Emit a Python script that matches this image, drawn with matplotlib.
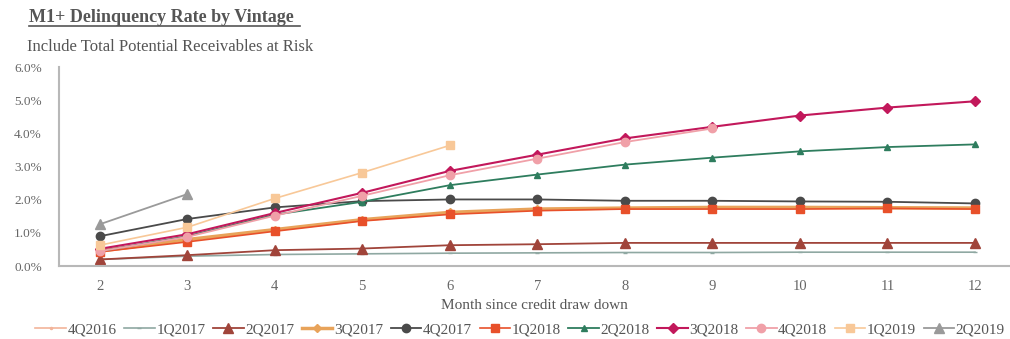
import matplotlib
matplotlib.use('Agg')
from matplotlib import pyplot as plt
from matplotlib.lines import Line2D

plt.rcParams['font.family'] = ['Liberation Serif', 'DejaVu Serif']

# data (percent)
months = [2, 3, 4, 5, 6, 7, 8, 9, 10, 11, 12]
vintages = ['4Q2016', '1Q2017', '2Q2017', '3Q2017', '4Q2017', '1Q2018',
            '2Q2018', '3Q2018', '4Q2018', '1Q2019', '2Q2019']

v_4q2016 = [0.50, 0.78, 1.08, 1.38, 1.60, 1.70, 1.74, 1.75, 1.76, 1.76, 1.76]
v_1q2017 = [0.20, 0.30, 0.35, 0.37, 0.39, 0.40, 0.41, 0.41, 0.42, 0.42, 0.42]
v_2q2017 = [0.20, 0.33, 0.48, 0.53, 0.63, 0.66, 0.70, 0.70, 0.70, 0.70, 0.70]
v_3q2017 = [0.45, 0.80, 1.10, 1.40, 1.62, 1.72, 1.75, 1.77, 1.77, 1.76, 1.75]
v_4q2017 = [0.90, 1.42, 1.77, 1.96, 2.01, 2.01, 1.97, 1.97, 1.95, 1.94, 1.89]
v_1q2018 = [0.43, 0.73, 1.05, 1.36, 1.56, 1.67, 1.72, 1.72, 1.72, 1.74, 1.72]
v_2q2018 = [0.45, 0.90, 1.55, 1.94, 2.44, 2.76, 3.06, 3.27, 3.46, 3.59, 3.67]
v_3q2018 = [0.52, 0.96, 1.60, 2.21, 2.87, 3.36, 3.85, 4.20, 4.54, 4.78, 4.97]
v_4q2018 = [0.45, 0.88, 1.52, 2.12, 2.74, 3.24, 3.74, 4.15]
v_1q2019 = [0.63, 1.17, 2.04, 2.82, 3.64]
v_2q2019 = [1.26, 2.17]

series = [v_4q2016, v_1q2017, v_2q2017, v_3q2017, v_4q2017, v_1q2018,
          v_2q2018, v_3q2018, v_4q2018, v_1q2019, v_2q2019]

# styles
colors = ['#f2b49a', '#8fa8a2', '#a0443a', '#e8a35a', '#4a4a4a', '#e8502a',
          '#2e7d5e', '#c2185b', '#f0a0a8', '#f8c898', '#9a9a9a']
markers = ['.', '_', '^', 'D', 'o', 's', '^', 'D', 'o', 's', '^']
msizes = [3, 3, 7, 4, 6, 6, 5, 5, 6, 6, 7]
lwidths = [1.2, 1.2, 1.3, 2.5, 1.3, 1.2, 1.3, 1.5, 1.3, 1.2, 1.3]

fig = plt.figure(figsize=(10.10, 3.39), dpi=100)
ax = fig.add_axes([0.058, 0.215, 0.942, 0.587])

for name, vals, c, m, ms, lw in zip(vintages, series, colors, markers, msizes, lwidths):
    ax.plot(months[:len(vals)], [v / 100 for v in vals], color=c, marker=m,
            markersize=ms, linewidth=lw, label=name)

ax.set_xlim(1.531, 12.40)
ax.set_ylim(0, 0.06)
ax.set_xticks(months)
ax.set_yticks([0, 0.01, 0.02, 0.03, 0.04, 0.05, 0.06])
ax.set_yticklabels(['0.0%', '1.0%', '2.0%', '3.0%', '4.0%', '5.0%', '6.0%'])
ax.tick_params(length=0, labelsize=9.5, colors='#666666', pad=12)
ax.tick_params(axis='x', pad=10, labelsize=10.5)
for s in ['top', 'right']:
    ax.spines[s].set_visible(False)
for s in ['left', 'bottom']:
    ax.spines[s].set_color('#b8b8b8')
    ax.spines[s].set_linewidth(1.5)

ax.set_xlabel('Month since credit draw down', fontsize=11, color='#555555', labelpad=4)

# title + subtitle
fig.text(0.029, 0.935, 'M1+ Delinquency Rate by Vintage', fontsize=13,
         fontweight='bold', color='#555555', ha='left', va='baseline')
fig.add_artist(Line2D([0.029, 0.297], [0.924, 0.924], color='#555555', linewidth=1.2))
fig.text(0.027, 0.85, 'Include Total Potential Receivables at Risk', fontsize=12,
         color='#555555', ha='left', va='baseline')

fig.legend(loc='center', bbox_to_anchor=(0.515, 0.027), ncol=11, frameon=False,
           fontsize=11, handlelength=2.0, handletextpad=0.1, columnspacing=0.5,
           labelcolor='#555555', borderpad=0)

fig.savefig('out.png', dpi=100)
